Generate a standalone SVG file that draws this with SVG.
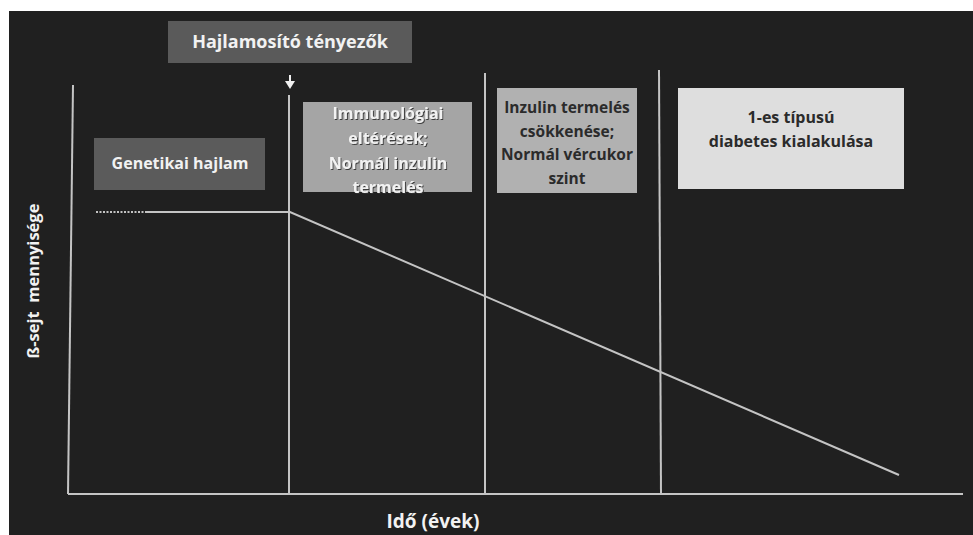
<svg xmlns="http://www.w3.org/2000/svg" width="973" height="535" viewBox="0 0 973 535">
<style>
text{font-family:"Open Sans","Liberation Sans",sans-serif;font-weight:bold;text-anchor:middle}
.ln{stroke:#c4c4c4;stroke-width:2;fill:none}
.wt{fill:#f2f2f2}
.dk{fill:#2b2b2b}
</style>
<defs>
<filter id="sh" x="-10%" y="-20%" width="120%" height="140%">
<feDropShadow dx="1" dy="1" stdDeviation="0.6" flood-color="#333" flood-opacity="0.9"/>
</filter>
</defs>
<rect x="0" y="0" width="973" height="535" fill="#ffffff"/>
<rect x="9" y="11" width="964" height="524" fill="#202020"/>

<g id="connectors">
<line class="ln" x1="73" y1="85" x2="68" y2="494"/>
<line class="ln" x1="68" y1="494" x2="963" y2="494"/>
<line class="ln" x1="289" y1="95" x2="289" y2="494" stroke-width="1.6"/>
<line class="ln" x1="485" y1="73" x2="485" y2="494" stroke-width="1.6"/>
<line class="ln" x1="659" y1="70" x2="661" y2="494" stroke-width="1.6"/>
<line class="ln" x1="96" y1="212" x2="146" y2="212" stroke-dasharray="2,1.5" stroke-width="1.6"/>
<polyline class="ln" points="146,212 290,212 899,475"/>
<line x1="290" y1="75" x2="290" y2="83" stroke="#f0f0f0" stroke-width="2"/>
<path d="M285,81 L295,81 L290,89 Z" fill="#f0f0f0"/>
</g>

<g id="hajlamosito">
<rect x="168" y="21" width="244" height="42" fill="#5a5a5a"/>
<text x="290" y="48" font-size="18" class="wt">Hajlamosító tényezők</text>
</g>

<g id="genetikai">
<rect x="94" y="138" width="171" height="52" fill="#5b5b5b"/>
<text x="180" y="169" font-size="16" class="wt">Genetikai hajlam</text>
</g>

<g id="immunologiai">
<rect x="303" y="102" width="169" height="90" fill="#a5a5a5"/>
<g filter="url(#sh)" font-size="16" class="wt">
<text x="388" y="119">Immunológiai</text>
<text x="388" y="144">eltérések;</text>
<text x="388" y="169">Normál inzulin</text>
<text x="388" y="193">termelés</text>
</g>
</g>

<g id="inzulin">
<rect x="497" y="88" width="140" height="105" fill="#b1b1b1"/>
<g font-size="15.5" class="dk">
<text x="567" y="113">Inzulin termelés</text>
<text x="567" y="137">csökkenése;</text>
<text x="567" y="160">Normál vércukor</text>
<text x="567" y="184">szint</text>
</g>
</g>

<g id="diabetes">
<rect x="678" y="88" width="226" height="101" fill="#dedede"/>
<g font-size="16" class="dk">
<text x="791" y="123">1-es típusú</text>
<text x="791" y="147">diabetes kialakulása</text>
</g>
</g>

<g id="axis-labels">
<text x="433" y="528" font-size="19" class="wt">Idő (évek)</text>
<text transform="translate(39,281) rotate(-90)" font-size="16.5" class="wt" xml:space="preserve">ß-sejt  mennyisége</text>
</g>
</svg>
